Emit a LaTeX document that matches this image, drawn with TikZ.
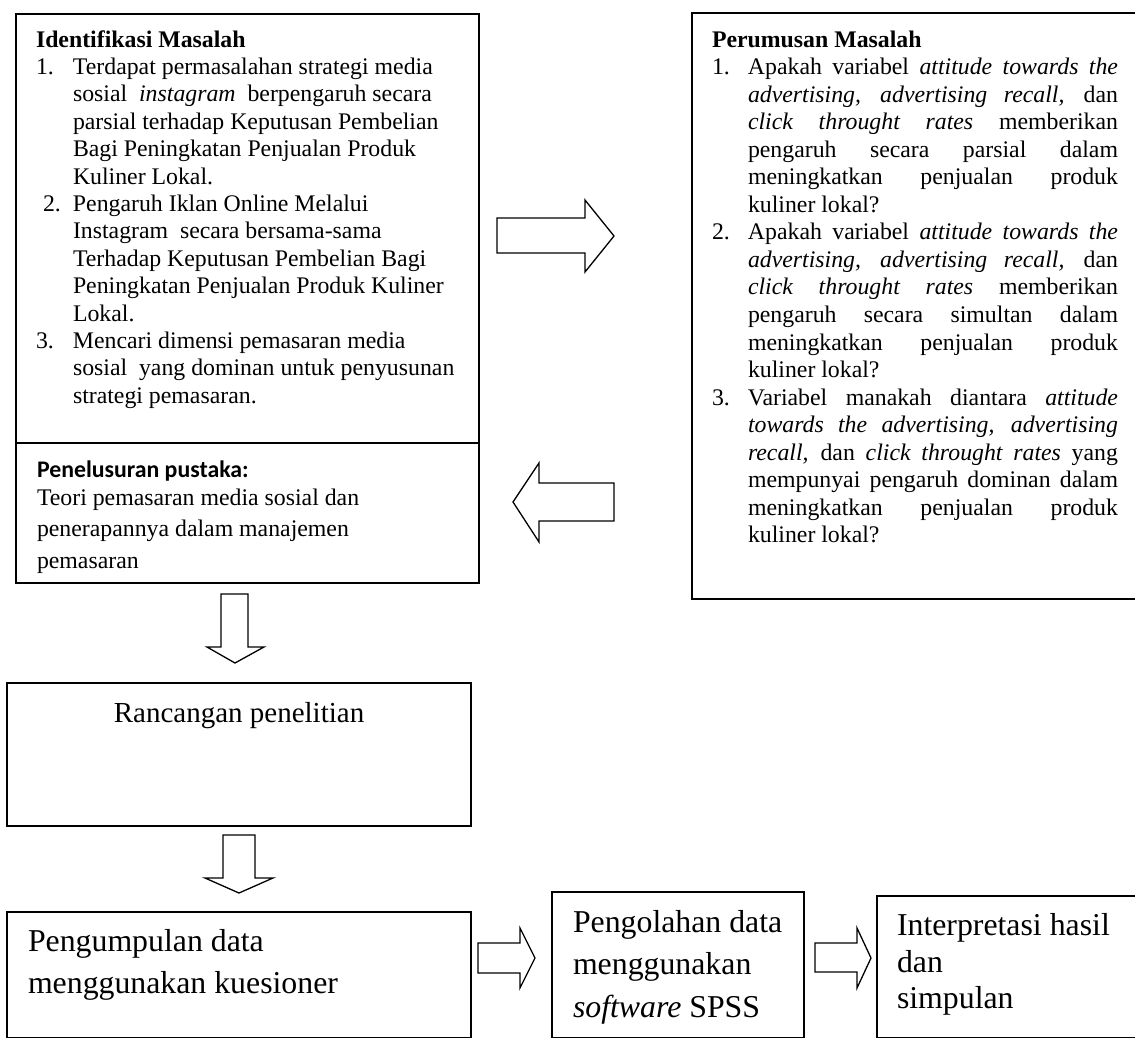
\documentclass[tikz,border=0pt]{standalone}
\usepackage{fontspec}
\setmainfont{Liberation Serif}
\newfontfamily\calibri{Carlito}
\newcommand\setfs[2]{\fontsize{#1}{#2}\selectfont}
\newcommand\nmA[1]{\makebox[37pt][l]{#1}}
\newcommand\indA{\hspace*{37pt}}
\newcommand\nmB[1]{\makebox[36pt][l]{#1}}
\newcommand\indB{\hspace*{36pt}}
\newcommand\js[1]{\makebox[370pt][s]{#1}}
\begin{document}
\begin{tikzpicture}[x=1pt,y=-1pt,
  box/.style={draw, line width=1.3pt, rectangle, anchor=north west, inner sep=0pt, outer sep=0pt},
  txt/.style={inner sep=0pt, outer sep=0pt, anchor=base west},
  blk/.style={draw, line width=1.3pt, fill=white, line join=miter}]
\useasboundingbox (0,0) rectangle (1135,1039);
\clip (0,0) rectangle (1135,1039);
\fill[white] (0,0) rectangle (1135,1039);

% boxes
\node[box, minimum width=463pt, minimum height=429pt] (ident) at (16,14) {};
\node[box, minimum width=463pt, minimum height=140pt] (pustaka) at (16,443) {};
\node[box, minimum width=450pt, minimum height=586pt] (rumus) at (692,13) {};
\node[box, minimum width=464pt, minimum height=143pt] (rancang) at (7,683) {};
\node[box, minimum width=464pt, minimum height=125.5pt] (kumpul) at (7,912) {};
\node[box, minimum width=252pt, minimum height=145.5pt] (olah) at (552,892) {};
\node[box, minimum width=265pt, minimum height=141.5pt] (interp) at (877,896) {};

% texts
\node[txt] (identtext) at (36,47) {\parbox[t]{600pt}{\setfs{23.8}{27.4}%
\textbf{Identifikasi Masalah}\\
\nmA{1.}Terdapat permasalahan strategi media\\
\indA sosial\ \ \textit{instagram}\ \ berpengaruh secara\\
\indA parsial terhadap Keputusan Pembelian\\
\indA Bagi Peningkatan Penjualan Produk\\
\indA Kuliner Lokal.\\
\nmA{\hspace*{7pt}2.}Pengaruh Iklan Online Melalui\\
\indA Instagram\ \ secara bersama-sama\\
\indA Terhadap Keputusan Pembelian Bagi\\
\indA Peningkatan Penjualan Produk Kuliner\\
\indA Lokal.\\
\nmA{3.}Mencari dimensi pemasaran media\\
\indA sosial\ \ yang dominan untuk penyusunan\\
\indA strategi pemasaran.}};

\node[txt] (pustakatitle) at (37,477) {\calibri\bfseries\setfs{23.8}{28}Penelusuran pustaka:};
\node[txt] (pustakatext) at (37,505) {\parbox[t]{600pt}{\setfs{23.8}{31.5}%
Teori pemasaran media sosial dan\\
penerapannya dalam manajemen\\
pemasaran}};

\node[txt] (rumustext) at (712,47) {\parbox[t]{420pt}{\setfs{23.8}{27.55}%
\textbf{Perumusan Masalah}\\
\nmB{1.}\js{Apakah variabel \textit{attitude towards the}}\\
\indB\js{\textit{advertising, advertising recall,} dan}\\
\indB\js{\textit{click throught rates} memberikan}\\
\indB\js{pengaruh secara parsial dalam}\\
\indB\js{meningkatkan penjualan produk}\\
\indB kuliner lokal?\\
\nmB{2.}\js{Apakah variabel \textit{attitude towards the}}\\
\indB\js{\textit{advertising, advertising recall,} dan}\\
\indB\js{\textit{click throught rates} memberikan}\\
\indB\js{pengaruh secara simultan dalam}\\
\indB\js{meningkatkan penjualan produk}\\
\indB kuliner lokal?\\
\nmB{3.}\js{Variabel manakah diantara \textit{attitude}}\\
\indB\js{\textit{towards the advertising, advertising}}\\
\indB\js{\textit{recall,} dan \textit{click throught rates} yang}\\
\indB\js{mempunyai pengaruh dominan dalam}\\
\indB\js{meningkatkan penjualan produk}\\
\indB kuliner lokal?}};

\node[inner sep=0pt, anchor=base] (rancangtext) at (239,722) {\setfs{29}{34}Rancangan penelitian};

\node[txt] (kumpultext) at (28,951) {\parbox[t]{440pt}{\setfs{31.8}{42}%
Pengumpulan data\\
menggunakan kuesioner}};

\node[txt] (olahtext) at (573,932) {\parbox[t]{240pt}{\setfs{31.8}{42.5}%
Pengolahan data\\
menggunakan\\
\textit{software} SPSS}};

\node[txt] (interptext1) at (897,935) {\setfs{31.8}{37}Interpretasi hasil};
\node[txt] (interptext2) at (897,972) {\setfs{31.8}{37}dan};
\node[txt] (interptext3) at (897,1008) {\setfs{31.8}{37}simpulan};

% block arrows
\draw[blk] (497,218) -- (585,218) -- (585,200) -- (614,236) -- (585,272) -- (585,253) -- (497,253) -- cycle;
\draw[blk] (614,483) -- (539,483) -- (539,463) -- (513,502) -- (539,542) -- (539,521) -- (614,521) -- cycle;
\draw[blk] (221,594) -- (248,594) -- (248,647) -- (264,647) -- (235,663) -- (207,647) -- (221,647) -- cycle;
\draw[blk] (223,835) -- (255,835) -- (255,878) -- (273,878) -- (239,893) -- (205,878) -- (223,878) -- cycle;
\draw[blk] (478,943) -- (520,943) -- (520,928) -- (535,958) -- (520,988) -- (520,973) -- (478,973) -- cycle;
\draw[blk] (815,943) -- (857,943) -- (857,928) -- (871,958) -- (857,988) -- (857,972) -- (815,972) -- cycle;
\end{tikzpicture}
\end{document}
